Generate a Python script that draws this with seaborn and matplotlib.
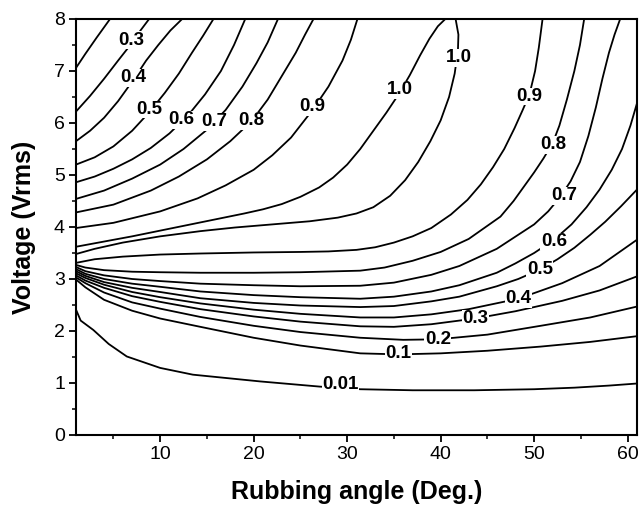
import matplotlib
matplotlib.use("Agg")
import matplotlib.pyplot as plt
import seaborn as sns
from matplotlib.ticker import MultipleLocator

# ---- contour lines (Rubbing angle [deg], Voltage [Vrms]) ----
# upper branch (above the T=1.0 ridge)
up02_x = [1, 2, 3.2, 4.64]
up02_y = [7.06, 7.33, 7.64, 8.0]
up03_x = [1, 2.5, 4, 5.5, 6.9, 7.9, 8.82]
up03_y = [6.22, 6.52, 6.85, 7.2, 7.52, 7.78, 8.0]
up04_x = [1, 2.5, 4, 5.5, 7.1, 8.5, 9.8, 11.1, 12.35]
up04_y = [5.65, 5.85, 6.1, 6.42, 6.82, 7.2, 7.5, 7.78, 8.0]
up05_x = [1, 3, 5, 7, 8.8, 10.5, 12, 13.4, 14.6, 15.7]
up05_y = [5.2, 5.34, 5.55, 5.85, 6.2, 6.58, 6.95, 7.35, 7.68, 8.0]
up06_x = [1, 3, 5, 7, 9, 11, 13, 14.8, 16.5, 17.9, 19.1]
up06_y = [4.86, 4.97, 5.12, 5.3, 5.52, 5.8, 6.15, 6.55, 7.0, 7.5, 8.0]
up07_x = [1, 4, 7, 10, 12.5, 15, 17, 18.8, 20.3, 21.5, 22.6]
up07_y = [4.54, 4.7, 4.93, 5.2, 5.5, 5.87, 6.25, 6.7, 7.15, 7.55, 8.0]
up08_x = [1, 5, 9, 12, 15, 17.5, 19.8, 21.5, 23, 24.5, 25.5, 26.4]
up08_y = [4.28, 4.43, 4.7, 4.97, 5.3, 5.65, 6.04, 6.45, 6.9, 7.35, 7.7, 8.0]
up09_x = [1, 5, 10, 14, 17, 20, 22, 24, 26.3, 28, 29.5, 30.4, 31.1]
up09_y = [3.98, 4.08, 4.3, 4.55, 4.8, 5.1, 5.38, 5.72, 6.25, 6.7, 7.2, 7.6, 8.0]
# the two T=1.0 curves
r10a_x = [1, 4, 7, 10, 13, 16, 19, 21, 23, 25, 27, 28.5, 30, 31.4, 32.8, 34.2,
          35.5, 36.7, 37.8, 38.8, 39.7, 40.5]
r10a_y = [3.62, 3.72, 3.82, 3.93, 4.04, 4.15, 4.26, 4.34, 4.44, 4.58, 4.76, 4.95,
          5.2, 5.5, 5.85, 6.2, 6.55, 6.92, 7.3, 7.62, 7.86, 8.0]
r10b_x = [1, 3, 6, 10, 14.3, 18, 22, 26, 29, 31, 32.8, 34.6, 36.2, 37.6, 38.9,
          40, 40.9, 41.5, 41.85, 41.9, 41.6]
r10b_y = [3.48, 3.58, 3.7, 3.82, 3.92, 3.99, 4.05, 4.11, 4.18, 4.26, 4.38, 4.6,
          4.9, 5.25, 5.65, 6.05, 6.5, 6.95, 7.4, 7.7, 8.0]
# lower branch (below the ridge)
lo09_x = [1, 3, 6, 10, 14.3, 20, 25, 28, 31, 33, 35, 37, 39, 41.1, 42.86, 44.3,
          45.6, 46.8, 47.9, 48.75, 49.5, 50.1, 50.5, 50.9]
lo09_y = [3.31, 3.38, 3.43, 3.47, 3.49, 3.51, 3.52, 3.53, 3.56, 3.61, 3.7, 3.82,
          3.98, 4.24, 4.52, 4.82, 5.15, 5.5, 5.9, 6.24, 6.55, 7.0, 7.45, 8.0]
lo08_x = [1, 2, 4, 7, 10, 14.3, 20, 25, 31.4, 34, 37, 40, 43, 46.4, 47.8, 49,
          50, 51, 52, 52.7, 53.5, 54.3, 54.9, 55.35]
lo08_y = [3.27, 3.22, 3.17, 3.14, 3.13, 3.12, 3.12, 3.13, 3.16, 3.22, 3.35, 3.52,
          3.77, 4.2, 4.5, 4.8, 5.05, 5.32, 5.62, 5.95, 6.45, 7.0, 7.5, 8.0]
lo07_x = [1, 2, 4, 7, 10, 14.3, 20, 25, 31.4, 35, 39, 42, 46, 50, 51.5, 52.8,
          53.9, 54.9, 55.8, 56.6, 57.3, 58.0, 58.6, 59.2]
lo07_y = [3.23, 3.15, 3.07, 3.0, 2.96, 2.91, 2.88, 2.86, 2.87, 2.93, 3.08, 3.25,
          3.58, 4.05, 4.3, 4.58, 4.88, 5.25, 5.75, 6.3, 6.85, 7.35, 7.7, 8.0]
lo06_x = [1, 2, 4, 7, 10, 14.3, 20, 25, 31.4, 35, 39, 42, 46, 48, 50, 52.1, 54,
          55.6, 57, 58.3, 59.4, 60.3, 61]
lo06_y = [3.19, 3.1, 3.0, 2.91, 2.85, 2.76, 2.69, 2.65, 2.62, 2.66, 2.76, 2.88,
          3.12, 3.3, 3.5, 3.75, 4.05, 4.38, 4.72, 5.1, 5.5, 5.95, 6.38]
lo05_x = [1, 2, 4, 7, 10, 14.3, 20, 25, 31.4, 35, 39, 42, 46, 48.3, 50.6, 52.5,
          54.3, 56, 57.6, 59.3, 61]
lo05_y = [3.15, 3.06, 2.94, 2.83, 2.75, 2.63, 2.54, 2.49, 2.46, 2.48, 2.57, 2.66,
          2.86, 3.0, 3.18, 3.38, 3.6, 3.85, 4.1, 4.4, 4.72]
lo04_x = [1, 2, 4, 7, 10, 14.3, 20, 25, 31.4, 35, 39, 43, 48.3, 53, 57, 61]
lo04_y = [3.11, 3.02, 2.89, 2.75, 2.65, 2.53, 2.41, 2.33, 2.26, 2.26, 2.32, 2.42,
          2.62, 2.92, 3.25, 3.755]
lo03_x = [1, 2, 4, 7, 10, 14.3, 20, 25, 31.4, 35, 39, 43.7, 48, 53, 57, 61]
lo03_y = [3.07, 2.97, 2.83, 2.67, 2.56, 2.42, 2.28, 2.18, 2.09, 2.08, 2.13, 2.24,
          2.38, 2.58, 2.78, 3.05]
lo02_x = [1, 2, 4, 7, 10, 14.3, 20, 25, 31.4, 36, 39.7, 45, 50.7, 56, 61]
lo02_y = [3.03, 2.92, 2.74, 2.55, 2.43, 2.27, 2.1, 1.98, 1.87, 1.83, 1.84, 1.93,
          2.1, 2.26, 2.47]
lo01_x = [1, 2, 4, 7, 10, 14.3, 20, 25, 31.4, 35.5, 40, 45, 50.7, 56, 61]
lo01_y = [2.99, 2.84, 2.6, 2.39, 2.24, 2.08, 1.87, 1.72, 1.57, 1.55, 1.57, 1.62,
          1.70, 1.79, 1.9]
lo001_x = [1, 1.5, 2.85, 4.5, 6.43, 10, 13.5, 20.7, 27.1, 31.4, 37, 43.6, 50,
           54.3, 58, 61]
lo001_y = [2.41, 2.2, 2.02, 1.75, 1.51, 1.29, 1.16, 1.03, 0.93, 0.88, 0.86, 0.86,
           0.88, 0.91, 0.95, 0.99]

# ---- contour labels: text and where they sit ----
label_text = ["0.3", "0.4", "0.5", "0.6", "0.7", "0.8", "0.9", "1.0", "1.0",
              "0.9", "0.8", "0.7", "0.6", "0.5", "0.4", "0.3", "0.2", "0.1", "0.01"]
label_x = [6.9, 7.1, 8.8, 12.3, 15.8, 19.8, 26.3, 35.6, 42.0,
           49.5, 52.1, 53.2, 52.1, 50.6, 48.3, 43.7, 39.7, 35.5, 29.3]
label_y = [7.59, 6.87, 6.26, 6.06, 6.02, 6.04, 6.31, 6.64, 7.25,
           6.51, 5.58, 4.6, 3.72, 3.18, 2.62, 2.24, 1.84, 1.57, 0.98]

x_ticks = [10, 20, 30, 40, 50, 60]
y_ticks = [0, 1, 2, 3, 4, 5, 6, 7, 8]

curves = [(up02_x, up02_y), (up03_x, up03_y), (up04_x, up04_y), (up05_x, up05_y),
          (up06_x, up06_y), (up07_x, up07_y), (up08_x, up08_y), (up09_x, up09_y),
          (r10a_x, r10a_y), (r10b_x, r10b_y),
          (lo09_x, lo09_y), (lo08_x, lo08_y), (lo07_x, lo07_y), (lo06_x, lo06_y),
          (lo05_x, lo05_y), (lo04_x, lo04_y), (lo03_x, lo03_y), (lo02_x, lo02_y),
          (lo01_x, lo01_y), (lo001_x, lo001_y)]

sns.set_style("ticks")
plt.rcParams["font.family"] = ["Liberation Sans", "DejaVu Sans"]
plt.rcParams["text.color"] = "black"
plt.rcParams["axes.labelcolor"] = "black"
plt.rcParams["xtick.color"] = "black"
plt.rcParams["ytick.color"] = "black"

fig = plt.figure(figsize=(6.42, 5.09), dpi=100)
ax = fig.add_axes([0.1184, 0.1454, 0.8738, 0.8173])

for cx, cy in curves:
    sns.lineplot(x=cx, y=cy, sort=False, estimator=None, color="black",
                 linewidth=1.3, ax=ax, legend=False)

for t, lx, ly in zip(label_text, label_x, label_y):
    ax.text(lx, ly, t, ha="center", va="center", fontsize=13.5, fontweight="bold",
            color="black", zorder=5,
            bbox=dict(facecolor="white", edgecolor="none", pad=0.3))

ax.set_xlim(1, 61)
ax.set_ylim(0, 8)
ax.set_xticks(x_ticks)
ax.set_yticks(y_ticks)
ax.xaxis.set_minor_locator(MultipleLocator(5))
ax.yaxis.set_minor_locator(MultipleLocator(0.5))
ax.tick_params(which="major", direction="out", length=5, width=1.3, labelsize=14,
               top=False, right=False, colors="black", pad=3)
ax.tick_params(which="minor", direction="out", length=3, width=1.1, top=False, right=False)
for s in ax.spines.values():
    s.set_linewidth(1.5)
    s.set_color("black")
    s.set_visible(True)

ax.set_xlabel("Rubbing angle (Deg.)", fontsize=18, fontweight="bold", labelpad=12)
ax.set_ylabel("Voltage (Vrms)", fontsize=18, fontweight="bold", labelpad=13)

fig.savefig("out.png", dpi=100)
